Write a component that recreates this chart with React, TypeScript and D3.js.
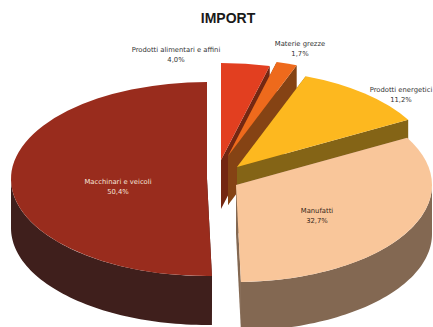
import React from "react";
import * as d3 from "d3";

const categories = [
  "Prodotti alimentari e affini",
  "Materie grezze",
  "Prodotti energetici",
  "Manufatti",
  "Macchinari e veicoli",
];
const shares = [4.0, 1.7, 11.2, 32.7, 50.4];
const topColors = ["#e23f20", "#ee6a1c", "#fdb81f", "#f9c69a", "#992c1d"];
const sideColors = ["#742712", "#854314", "#846416", "#836852", "#3f1f1c"];
const labelColors = ["#333333", "#333333", "#333333", "#3a2a1c", "#f6e3da"];

// Where each pulled-out wedge has its apex.
const apexX = [221, 228, 237, 236, 207];
const apexY = [160, 156, 167, 185, 179];
const labelX = [176, 300, 401, 317, 118];
const labelY = [52, 46, 92, 213, 184];

const WIDTH = 433;
const HEIGHT = 327;
const RX = 196;
const RY = 97;
const DEPTH = 49;

const decimal = (v: number) => v.toFixed(1).replace(".", ",") + "%";

const pie = d3
  .pie<number>()
  .sort(null)
  .startAngle(0)
  .endAngle(2 * Math.PI);

// Flattened wedge: a circular arc that is squashed vertically by the group transform.
const topArc = d3.arc<d3.PieArcDatum<number>>().innerRadius(0).outerRadius(RX);

// Outer wall of a wedge, only ever built over the front half of the rim.
const wall = d3
  .area<number>()
  .x((a) => RX * Math.sin(a))
  .y0((a) => -RY * Math.cos(a))
  .y1((a) => -RY * Math.cos(a) + DEPTH);

function faceAt(angle: number): string {
  const dx = RX * Math.sin(angle);
  const dy = -RY * Math.cos(angle);
  const path = d3.path();
  path.moveTo(0, 0);
  path.lineTo(dx, dy);
  path.lineTo(dx, dy + DEPTH);
  path.lineTo(0, DEPTH);
  path.closePath();
  return path.toString();
}

function wallPath(start: number, end: number): string {
  const from = Math.max(start, Math.PI / 2);
  const to = Math.min(end, (3 * Math.PI) / 2);
  if (to <= from) return "";
  const steps = d3.range(0, 61).map((k) => from + ((to - from) * k) / 60);
  return wall(steps) ?? "";
}

export default function App() {
  const slices = pie(shares);
  return (
    <svg
      width={WIDTH}
      height={HEIGHT}
      viewBox={`0 0 ${WIDTH} ${HEIGHT}`}
      style={{ position: "fixed", left: 0, top: 0, background: "#fff" }}
    >
      <text
        x={228}
        y={23}
        textAnchor="middle"
        fontFamily="'Liberation Sans', Arial, sans-serif"
        fontWeight="bold"
        fontSize={14}
        fill="#1a1a1a"
      >
        IMPORT
      </text>
      {slices.map((s, i) => (
        <g key={categories[i]} transform={`translate(${apexX[i]},${apexY[i]})`}>
          <path d={faceAt(s.startAngle)} fill={sideColors[i]} />
          <path d={faceAt(s.endAngle)} fill={sideColors[i]} />
          <path d={wallPath(s.startAngle, s.endAngle)} fill={sideColors[i]} />
          <g transform={`scale(1,${RY / RX})`}>
            <path d={topArc(s) ?? ""} fill={topColors[i]} />
          </g>
        </g>
      ))}
      {slices.map((s, i) => (
        <text
          key={categories[i]}
          textAnchor="middle"
          fontFamily="'DejaVu Sans', Verdana, sans-serif"
          fontSize={6.8}
          fill={labelColors[i]}
        >
          <tspan x={labelX[i]} y={labelY[i]}>
            {categories[i]}
          </tspan>
          <tspan x={labelX[i]} y={labelY[i] + 10}>
            {decimal(s.data)}
          </tspan>
        </text>
      ))}
    </svg>
  );
}
